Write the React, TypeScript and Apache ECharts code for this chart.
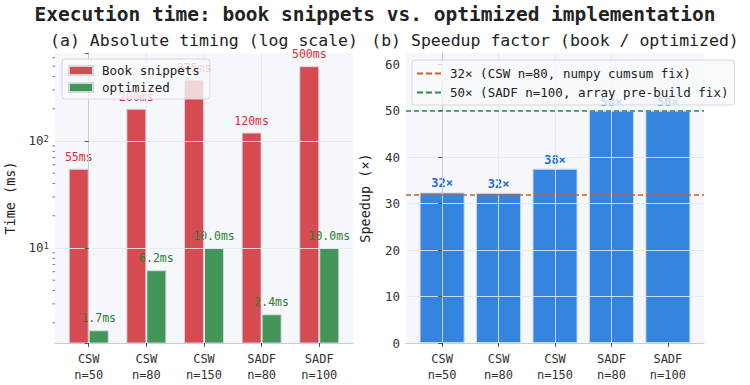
import React, { useEffect, useRef } from 'react';
import * as echarts from 'echarts';

const categories = ['CSW\nn=50', 'CSW\nn=80', 'CSW\nn=150', 'SADF\nn=80', 'SADF\nn=100'];
const categoryPositions = [0, 1, 2, 3, 4];
const bookMs = [55, 200, 375, 120, 500];
const optimizedMs = [1.7, 6.2, 10.0, 2.4, 10.0];
const speedup = [32.4, 32.3, 37.5, 50, 50];
const refNames = ['32× (CSW n=80, numpy cumsum fix)', '50× (SADF n=100, array pre-build fix)'];
const refValues = [32, 50];
const speedTicks = [0, 10, 20, 30, 40, 50, 60];
const logMinorTicks = [2, 3, 4, 5, 6, 7, 8, 9, 20, 30, 40, 50, 60, 70, 80, 90, 200, 300, 400, 500, 600];

const FONT = '"DejaVu Sans Mono", monospace';
const RED = '#d64a52';
const GREEN = '#43955a';
const BLUE = '#3584de';
const REF_COLORS = ['#c8602a', '#2e8b47'];
const AXIS_LINE = '#c5cdd8';
const GRID_LINE = 'rgba(228,233,240,0.85)';
const DASH_ICON = 'path://M0,0h6v2h-6zM9,0h6v2h-6zM18,0h6v2h-6z';
const LEFT_X_MIN = -0.585;

export default function App() {
  const ref = useRef<HTMLDivElement>(null);
  useEffect(() => {
    if (!ref.current) return;
    const chart = echarts.init(ref.current, undefined, { renderer: 'svg' });

    const xAxisBase = (gridIndex: number, min: number, max: number) => ({
      type: 'value',
      gridIndex,
      min,
      max,
      z: 3,
      axisLine: { show: true, lineStyle: { color: AXIS_LINE, width: 1 } },
      axisTick: { show: true, customValues: categoryPositions, length: 4, lineStyle: { color: '#555' } },
      axisLabel: {
        customValues: categoryPositions,
        formatter: (v: number) => categories[Math.round(v)] ?? '',
        fontFamily: FONT,
        fontSize: 12,
        color: '#333',
        lineHeight: 16,
        margin: 8,
      },
      splitLine: { show: true, showMinLine: false, showMaxLine: false, lineStyle: { color: GRID_LINE, width: 1 } },
    });

    const option: any = {
      animation: false,
      graphic: [
        {
          type: 'text',
          x: 375,
          y: 14,
          style: {
            text: 'Execution time: book snippets vs. optimized implementation',
            font: `bold 19.5px ${FONT}`,
            fill: '#222',
            align: 'center',
            verticalAlign: 'middle',
          },
        },
        {
          type: 'text',
          x: 204,
          y: 40,
          style: {
            text: '(a) Absolute timing (log scale)',
            font: `16.5px ${FONT}`,
            fill: '#222',
            align: 'center',
            verticalAlign: 'middle',
          },
        },
        {
          type: 'text',
          x: 555,
          y: 40,
          style: {
            text: '(b) Speedup factor (book / optimized)',
            font: `16.5px ${FONT}`,
            fill: '#222',
            align: 'center',
            verticalAlign: 'middle',
          },
        },
      ],
      grid: [
        { left: 55, top: 53, width: 298, height: 290, show: true, backgroundColor: '#f5f7fa', borderWidth: 0 },
        { left: 406, top: 53, width: 298, height: 290, show: true, backgroundColor: '#f5f7fa', borderWidth: 0 },
      ],
      legend: [
        {
          orient: 'vertical',
          left: 62,
          top: 59,
          padding: [5, 10, 5, 6],
          itemGap: 4,
          itemWidth: 24,
          itemHeight: 9,
          backgroundColor: 'rgba(248,249,251,0.8)',
          borderColor: '#d3d8e0',
          borderWidth: 1,
          borderRadius: 3,
          textStyle: { fontFamily: FONT, fontSize: 12.5, color: '#222', padding: [0, 0, 0, 4] },
          data: [
            { name: 'Book snippets', icon: 'rect' },
            { name: 'optimized', icon: 'rect' },
          ],
        },
        {
          orient: 'vertical',
          left: 412,
          top: 60,
          padding: [6, 6, 5, 5],
          itemGap: 4,
          itemWidth: 24,
          itemHeight: 2,
          backgroundColor: 'rgba(248,249,251,0.8)',
          borderColor: '#d3d8e0',
          borderWidth: 1,
          borderRadius: 3,
          textStyle: { fontFamily: FONT, fontSize: 12.5, color: '#222', padding: [0, 0, 0, 4], lineHeight: 15 },
          data: refNames.map((n) => ({ name: n, icon: DASH_ICON })),
        },
      ],
      xAxis: [xAxisBase(0, LEFT_X_MIN, 4.585), xAxisBase(1, -0.64, 4.64)],
      yAxis: [
        {
          type: 'log',
          logBase: 10,
          gridIndex: 0,
          min: 1.294,
          max: 664,
          z: 3,
          name: 'Time (ms)',
          nameLocation: 'middle',
          nameGap: 38,
          nameTextStyle: { fontFamily: FONT, fontSize: 13.5, color: '#222' },
          axisLine: { show: true, lineStyle: { color: AXIS_LINE, width: 1 } },
          axisTick: { show: true, length: 4, lineStyle: { color: '#555' } },
          axisLabel: {
            fontFamily: FONT,
            fontSize: 12.5,
            color: '#333',
            margin: 6,
            formatter: (v: number) => {
              const e = Math.log10(v);
              if (Math.abs(e - Math.round(e)) < 1e-6) return '10{sup|' + Math.round(e) + '}';
              return '';
            },
            rich: {
              sup: { fontFamily: FONT, fontSize: 9, color: '#333', verticalAlign: 'top', lineHeight: 10, padding: [0, 0, 6, 0] },
            },
          },
          splitLine: { show: true, showMinLine: false, showMaxLine: false, lineStyle: { color: GRID_LINE, width: 1 } },
        },
        {
          type: 'value',
          gridIndex: 1,
          min: 0,
          max: 62.4,
          interval: 10,
          z: 3,
          name: 'Speedup (×)',
          nameLocation: 'middle',
          nameGap: 34,
          nameTextStyle: { fontFamily: FONT, fontSize: 13.5, color: '#222' },
          axisLine: { show: true, lineStyle: { color: AXIS_LINE, width: 1 } },
          axisTick: { show: true, customValues: speedTicks, length: 4, lineStyle: { color: '#555' } },
          axisLabel: {
            customValues: speedTicks,
            fontFamily: FONT,
            fontSize: 12.5,
            color: '#333',
            margin: 6,
            formatter: (v: number) => (v % 10 === 0 ? String(v) : ''),
          },
          splitLine: { show: true, showMinLine: false, showMaxLine: false, lineStyle: { color: GRID_LINE, width: 1 } },
        },
      ],
      series: [
        {
          name: 'Book snippets',
          type: 'bar',
          xAxisIndex: 0,
          yAxisIndex: 0,
          barWidth: 20,
          barGap: '0%',
          z: 2,
          data: bookMs.map((v, i) => [categoryPositions[i], v]),
          itemStyle: { color: RED, borderColor: 'rgba(210,216,228,0.95)', borderWidth: 1 },
          label: {
            show: true,
            position: 'top',
            distance: 6,
            formatter: (p: any) => p.value[1].toFixed(0) + 'ms',
            color: '#d62d3a',
            fontFamily: FONT,
            fontSize: 11.5,
          },
        },
        {
          name: 'optimized',
          type: 'bar',
          xAxisIndex: 0,
          yAxisIndex: 0,
          barWidth: 20,
          barGap: '0%',
          z: 2,
          data: optimizedMs.map((v, i) => [categoryPositions[i], v]),
          itemStyle: { color: GREEN, borderColor: 'rgba(210,216,228,0.95)', borderWidth: 1 },
          label: {
            show: true,
            position: 'top',
            distance: 6,
            formatter: (p: any) => p.value[1].toFixed(1) + 'ms',
            color: '#2e7d32',
            fontFamily: FONT,
            fontSize: 11.5,
          },
        },
        {
          name: 'logMinorTicks',
          type: 'custom',
          xAxisIndex: 0,
          yAxisIndex: 0,
          silent: true,
          clip: false,
          z: 4,
          data: logMinorTicks.map((v) => [LEFT_X_MIN, v]),
          renderItem: (params: any, api: any) => {
            const pt = api.coord([api.value(0), api.value(1)]);
            return {
              type: 'line',
              shape: { x1: pt[0] - 2.5, y1: pt[1], x2: pt[0], y2: pt[1] },
              style: { stroke: '#555', lineWidth: 0.8 },
            };
          },
        },
        {
          name: 'Speedup',
          type: 'bar',
          xAxisIndex: 1,
          yAxisIndex: 1,
          barWidth: 45,
          z: 2,
          data: speedup.map((v, i) => [categoryPositions[i], v]),
          itemStyle: { color: BLUE, borderColor: 'rgba(200,215,240,0.95)', borderWidth: 1 },
          label: {
            show: true,
            position: 'top',
            distance: 3,
            formatter: (p: any) => Math.round(p.value[1]) + '×',
            color: '#1a6fe0',
            fontFamily: FONT,
            fontSize: 12,
            fontWeight: 'bold',
          },
        },
        ...refNames.map((n, k) => ({
          name: n,
          type: 'line',
          xAxisIndex: 1,
          yAxisIndex: 1,
          data: [],
          z: 5,
          itemStyle: { color: REF_COLORS[k] },
          lineStyle: { color: REF_COLORS[k], type: [5, 3], width: 1.6 },
          markLine: {
            silent: true,
            symbol: 'none',
            label: { show: false },
            lineStyle: { color: REF_COLORS[k], type: [5, 3], width: 1.6 },
            data: [{ yAxis: refValues[k] }],
          },
        })),
      ],
    };

    chart.setOption(option);
    return () => chart.dispose();
  }, []);

  return (
    <div
      ref={ref}
      style={{ position: 'fixed', left: 0, top: 0, width: 750, height: 385, background: '#ffffff' }}
    />
  );
}
